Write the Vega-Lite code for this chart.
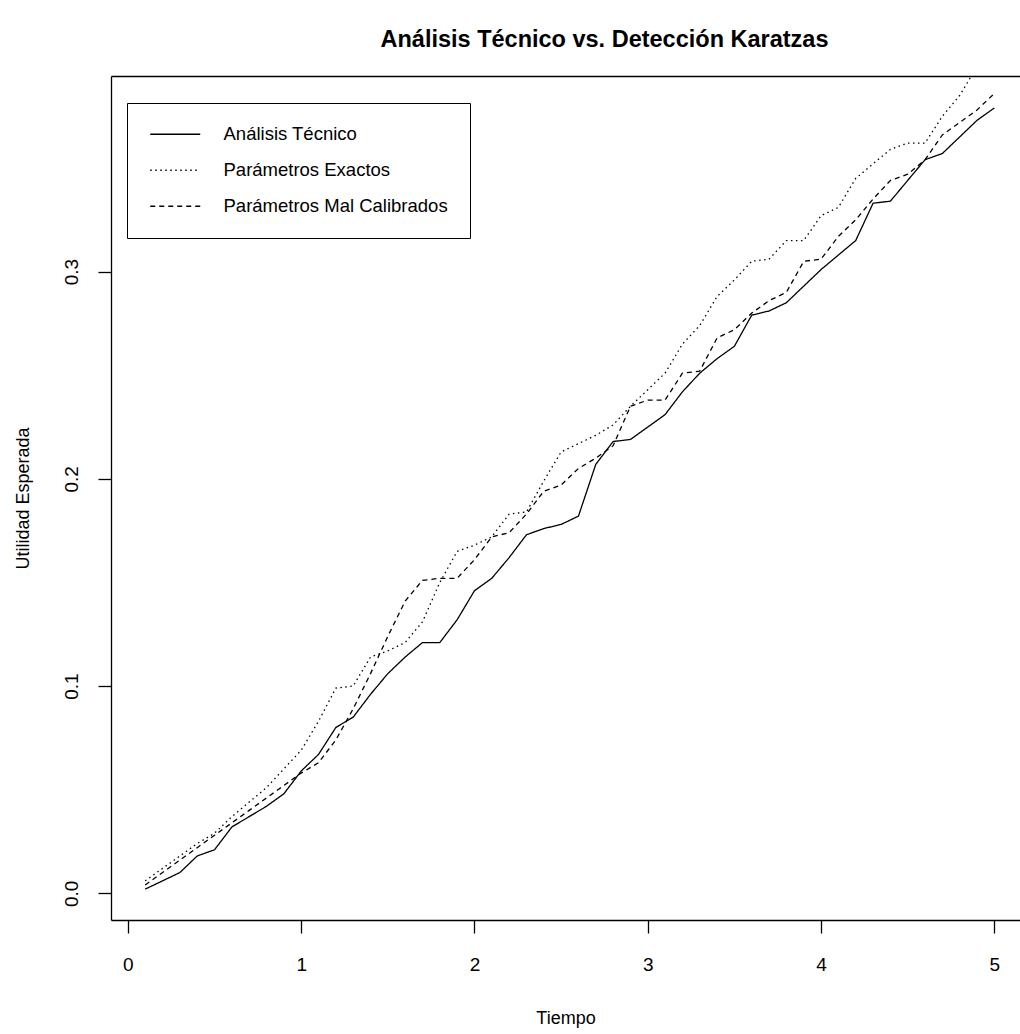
{
  "$schema": "https://vega.github.io/schema/vega-lite/v6.json",
  "width": 909,
  "height": 844,
  "autosize": {"type": "none"},
  "padding": {"left": 111, "top": 76, "right": 0, "bottom": 114},
  "background": "white",
  "title": {"text": "Análisis Técnico vs. Detección Karatzas", "font": "Liberation Sans", "fontSize": 23.5, "fontWeight": "bold", "color": "black", "anchor": "middle", "dx": 39, "offset": 6, "baseline": "alphabetic"},
  "config": {
    "view": {"stroke": null},
    "axis": {"domainColor": "black", "domainWidth": 1.3, "tickColor": "black", "tickWidth": 1.3, "tickSize": 13, "labelFont": "Liberation Sans", "labelFontSize": 19, "labelColor": "black", "titleFont": "Liberation Sans", "titleFontSize": 18, "titleFontWeight": "normal", "titleColor": "black", "grid": false},
    "legend": {"orient": "none", "legendX": 16, "legendY": 27, "labelFont": "Liberation Sans", "labelFontSize": 18.5, "labelColor": "black", "labelLimit": 500, "symbolType": "M-5,0H5", "symbolSize": 100, "symbolOffset": 17, "symbolStrokeWidth": 1.3, "symbolStrokeColor": "black", "strokeColor": "black", "fillColor": "white", "padding": 22, "labelOffset": 39, "rowPadding": 17}
  },
  "data": {"values": [
    {"t":0.1,"serie":"Análisis Técnico","valor":0.002},{"t":0.2,"serie":"Análisis Técnico","valor":0.006},{"t":0.3,"serie":"Análisis Técnico","valor":0.010},{"t":0.4,"serie":"Análisis Técnico","valor":0.018},{"t":0.5,"serie":"Análisis Técnico","valor":0.021},
    {"t":0.6,"serie":"Análisis Técnico","valor":0.032},{"t":0.7,"serie":"Análisis Técnico","valor":0.037},{"t":0.8,"serie":"Análisis Técnico","valor":0.042},{"t":0.9,"serie":"Análisis Técnico","valor":0.048},{"t":1.0,"serie":"Análisis Técnico","valor":0.059},
    {"t":1.1,"serie":"Análisis Técnico","valor":0.067},{"t":1.2,"serie":"Análisis Técnico","valor":0.080},{"t":1.3,"serie":"Análisis Técnico","valor":0.085},{"t":1.4,"serie":"Análisis Técnico","valor":0.096},{"t":1.5,"serie":"Análisis Técnico","valor":0.106},
    {"t":1.6,"serie":"Análisis Técnico","valor":0.114},{"t":1.7,"serie":"Análisis Técnico","valor":0.121},{"t":1.8,"serie":"Análisis Técnico","valor":0.121},{"t":1.9,"serie":"Análisis Técnico","valor":0.132},{"t":2.0,"serie":"Análisis Técnico","valor":0.146},
    {"t":2.1,"serie":"Análisis Técnico","valor":0.152},{"t":2.2,"serie":"Análisis Técnico","valor":0.162},{"t":2.3,"serie":"Análisis Técnico","valor":0.173},{"t":2.4,"serie":"Análisis Técnico","valor":0.176},{"t":2.5,"serie":"Análisis Técnico","valor":0.178},
    {"t":2.6,"serie":"Análisis Técnico","valor":0.182},{"t":2.7,"serie":"Análisis Técnico","valor":0.207},{"t":2.8,"serie":"Análisis Técnico","valor":0.218},{"t":2.9,"serie":"Análisis Técnico","valor":0.219},{"t":3.0,"serie":"Análisis Técnico","valor":0.225},
    {"t":3.1,"serie":"Análisis Técnico","valor":0.231},{"t":3.2,"serie":"Análisis Técnico","valor":0.242},{"t":3.3,"serie":"Análisis Técnico","valor":0.251},{"t":3.4,"serie":"Análisis Técnico","valor":0.258},{"t":3.5,"serie":"Análisis Técnico","valor":0.264},
    {"t":3.6,"serie":"Análisis Técnico","valor":0.279},{"t":3.7,"serie":"Análisis Técnico","valor":0.281},{"t":3.8,"serie":"Análisis Técnico","valor":0.285},{"t":3.9,"serie":"Análisis Técnico","valor":0.293},{"t":4.0,"serie":"Análisis Técnico","valor":0.301},
    {"t":4.1,"serie":"Análisis Técnico","valor":0.308},{"t":4.2,"serie":"Análisis Técnico","valor":0.315},{"t":4.3,"serie":"Análisis Técnico","valor":0.333},{"t":4.4,"serie":"Análisis Técnico","valor":0.334},{"t":4.5,"serie":"Análisis Técnico","valor":0.344},
    {"t":4.6,"serie":"Análisis Técnico","valor":0.354},{"t":4.7,"serie":"Análisis Técnico","valor":0.357},{"t":4.8,"serie":"Análisis Técnico","valor":0.365},{"t":4.9,"serie":"Análisis Técnico","valor":0.373},{"t":5.0,"serie":"Análisis Técnico","valor":0.379},
    {"t":0.1,"serie":"Parámetros Exactos","valor":0.006},{"t":0.2,"serie":"Parámetros Exactos","valor":0.012},{"t":0.3,"serie":"Parámetros Exactos","valor":0.018},{"t":0.4,"serie":"Parámetros Exactos","valor":0.024},{"t":0.5,"serie":"Parámetros Exactos","valor":0.029},
    {"t":0.6,"serie":"Parámetros Exactos","valor":0.037},{"t":0.7,"serie":"Parámetros Exactos","valor":0.044},{"t":0.8,"serie":"Parámetros Exactos","valor":0.051},{"t":0.9,"serie":"Parámetros Exactos","valor":0.060},{"t":1.0,"serie":"Parámetros Exactos","valor":0.069},
    {"t":1.1,"serie":"Parámetros Exactos","valor":0.083},{"t":1.2,"serie":"Parámetros Exactos","valor":0.099},{"t":1.3,"serie":"Parámetros Exactos","valor":0.100},{"t":1.4,"serie":"Parámetros Exactos","valor":0.114},{"t":1.5,"serie":"Parámetros Exactos","valor":0.117},
    {"t":1.6,"serie":"Parámetros Exactos","valor":0.121},{"t":1.7,"serie":"Parámetros Exactos","valor":0.131},{"t":1.8,"serie":"Parámetros Exactos","valor":0.150},{"t":1.9,"serie":"Parámetros Exactos","valor":0.165},{"t":2.0,"serie":"Parámetros Exactos","valor":0.168},
    {"t":2.1,"serie":"Parámetros Exactos","valor":0.172},{"t":2.2,"serie":"Parámetros Exactos","valor":0.183},{"t":2.3,"serie":"Parámetros Exactos","valor":0.184},{"t":2.4,"serie":"Parámetros Exactos","valor":0.199},{"t":2.5,"serie":"Parámetros Exactos","valor":0.213},
    {"t":2.6,"serie":"Parámetros Exactos","valor":0.217},{"t":2.7,"serie":"Parámetros Exactos","valor":0.221},{"t":2.8,"serie":"Parámetros Exactos","valor":0.226},{"t":2.9,"serie":"Parámetros Exactos","valor":0.235},{"t":3.0,"serie":"Parámetros Exactos","valor":0.243},
    {"t":3.1,"serie":"Parámetros Exactos","valor":0.251},{"t":3.2,"serie":"Parámetros Exactos","valor":0.265},{"t":3.3,"serie":"Parámetros Exactos","valor":0.274},{"t":3.4,"serie":"Parámetros Exactos","valor":0.288},{"t":3.5,"serie":"Parámetros Exactos","valor":0.296},
    {"t":3.6,"serie":"Parámetros Exactos","valor":0.305},{"t":3.7,"serie":"Parámetros Exactos","valor":0.306},{"t":3.8,"serie":"Parámetros Exactos","valor":0.315},{"t":3.9,"serie":"Parámetros Exactos","valor":0.315},{"t":4.0,"serie":"Parámetros Exactos","valor":0.327},
    {"t":4.1,"serie":"Parámetros Exactos","valor":0.331},{"t":4.2,"serie":"Parámetros Exactos","valor":0.345},{"t":4.3,"serie":"Parámetros Exactos","valor":0.352},{"t":4.4,"serie":"Parámetros Exactos","valor":0.359},{"t":4.5,"serie":"Parámetros Exactos","valor":0.362},
    {"t":4.6,"serie":"Parámetros Exactos","valor":0.362},{"t":4.7,"serie":"Parámetros Exactos","valor":0.375},{"t":4.8,"serie":"Parámetros Exactos","valor":0.385},{"t":4.9,"serie":"Parámetros Exactos","valor":0.399},{"t":5.0,"serie":"Parámetros Exactos","valor":0.412},
    {"t":0.1,"serie":"Parámetros Mal Calibrados","valor":0.004},{"t":0.2,"serie":"Parámetros Mal Calibrados","valor":0.010},{"t":0.3,"serie":"Parámetros Mal Calibrados","valor":0.016},{"t":0.4,"serie":"Parámetros Mal Calibrados","valor":0.022},{"t":0.5,"serie":"Parámetros Mal Calibrados","valor":0.028},
    {"t":0.6,"serie":"Parámetros Mal Calibrados","valor":0.034},{"t":0.7,"serie":"Parámetros Mal Calibrados","valor":0.040},{"t":0.8,"serie":"Parámetros Mal Calibrados","valor":0.046},{"t":0.9,"serie":"Parámetros Mal Calibrados","valor":0.052},{"t":1.0,"serie":"Parámetros Mal Calibrados","valor":0.058},
    {"t":1.1,"serie":"Parámetros Mal Calibrados","valor":0.063},{"t":1.2,"serie":"Parámetros Mal Calibrados","valor":0.074},{"t":1.3,"serie":"Parámetros Mal Calibrados","valor":0.089},{"t":1.4,"serie":"Parámetros Mal Calibrados","valor":0.106},{"t":1.5,"serie":"Parámetros Mal Calibrados","valor":0.124},
    {"t":1.6,"serie":"Parámetros Mal Calibrados","valor":0.141},{"t":1.7,"serie":"Parámetros Mal Calibrados","valor":0.151},{"t":1.8,"serie":"Parámetros Mal Calibrados","valor":0.152},{"t":1.9,"serie":"Parámetros Mal Calibrados","valor":0.152},{"t":2.0,"serie":"Parámetros Mal Calibrados","valor":0.161},
    {"t":2.1,"serie":"Parámetros Mal Calibrados","valor":0.172},{"t":2.2,"serie":"Parámetros Mal Calibrados","valor":0.174},{"t":2.3,"serie":"Parámetros Mal Calibrados","valor":0.183},{"t":2.4,"serie":"Parámetros Mal Calibrados","valor":0.194},{"t":2.5,"serie":"Parámetros Mal Calibrados","valor":0.197},
    {"t":2.6,"serie":"Parámetros Mal Calibrados","valor":0.205},{"t":2.7,"serie":"Parámetros Mal Calibrados","valor":0.210},{"t":2.8,"serie":"Parámetros Mal Calibrados","valor":0.216},{"t":2.9,"serie":"Parámetros Mal Calibrados","valor":0.235},{"t":3.0,"serie":"Parámetros Mal Calibrados","valor":0.238},
    {"t":3.1,"serie":"Parámetros Mal Calibrados","valor":0.238},{"t":3.2,"serie":"Parámetros Mal Calibrados","valor":0.251},{"t":3.3,"serie":"Parámetros Mal Calibrados","valor":0.252},{"t":3.4,"serie":"Parámetros Mal Calibrados","valor":0.268},{"t":3.5,"serie":"Parámetros Mal Calibrados","valor":0.272},
    {"t":3.6,"serie":"Parámetros Mal Calibrados","valor":0.280},{"t":3.7,"serie":"Parámetros Mal Calibrados","valor":0.286},{"t":3.8,"serie":"Parámetros Mal Calibrados","valor":0.290},{"t":3.9,"serie":"Parámetros Mal Calibrados","valor":0.305},{"t":4.0,"serie":"Parámetros Mal Calibrados","valor":0.306},
    {"t":4.1,"serie":"Parámetros Mal Calibrados","valor":0.317},{"t":4.2,"serie":"Parámetros Mal Calibrados","valor":0.325},{"t":4.3,"serie":"Parámetros Mal Calibrados","valor":0.335},{"t":4.4,"serie":"Parámetros Mal Calibrados","valor":0.344},{"t":4.5,"serie":"Parámetros Mal Calibrados","valor":0.347},
    {"t":4.6,"serie":"Parámetros Mal Calibrados","valor":0.354},{"t":4.7,"serie":"Parámetros Mal Calibrados","valor":0.366},{"t":4.8,"serie":"Parámetros Mal Calibrados","valor":0.372},{"t":4.9,"serie":"Parámetros Mal Calibrados","valor":0.378},{"t":5.0,"serie":"Parámetros Mal Calibrados","valor":0.386}
  ]},
  "layer": [
    {
      "mark": {"type": "line", "clip": true, "color": "black", "strokeWidth": 1.3},
      "encoding": {
        "x": {"field": "t", "type": "quantitative", "scale": {"domain": [-0.0975, 5.148], "nice": false, "zero": false},
              "axis": {"orient": "bottom", "title": "Tiempo", "values": [0, 1, 2, 3, 4, 5], "format": "d", "labelPadding": 22, "titlePadding": 35, "labelFlush": false}},
        "y": {"field": "valor", "type": "quantitative", "scale": {"domain": [-0.0129, 0.3944], "nice": false, "zero": false},
              "axis": {"title": "Utilidad Esperada", "values": [0, 0.1, 0.2, 0.3], "format": ".1f", "labelAngle": -90, "labelAlign": "center", "labelBaseline": "bottom", "labelPadding": 17, "titlePadding": 30, "labelFlush": false}},
        "strokeDash": {"field": "serie", "type": "nominal",
          "scale": {"domain": ["Análisis Técnico", "Parámetros Exactos", "Parámetros Mal Calibrados"], "range": [[1, 0], [1.5, 3.5], [5, 4]]},
          "legend": {"title": null}}
      }
    },
    {
      "mark": {"type": "line", "clip": true, "strokeOpacity": 0},
      "encoding": {
        "x": {"field": "t", "type": "quantitative", "axis": {"orient": "top", "title": null, "labels": false, "ticks": false, "domain": true}},
        "y": {"field": "valor", "type": "quantitative",
              "axis": {"title": "Utilidad Esperada", "values": [0, 0.1, 0.2, 0.3], "format": ".1f", "labelAngle": -90, "labelAlign": "center", "labelBaseline": "bottom", "labelPadding": 17, "titlePadding": 30, "labelFlush": false}},
        "detail": {"field": "serie"}
      }
    }
  ],
  "resolve": {"axis": {"x": "independent"}}
}
